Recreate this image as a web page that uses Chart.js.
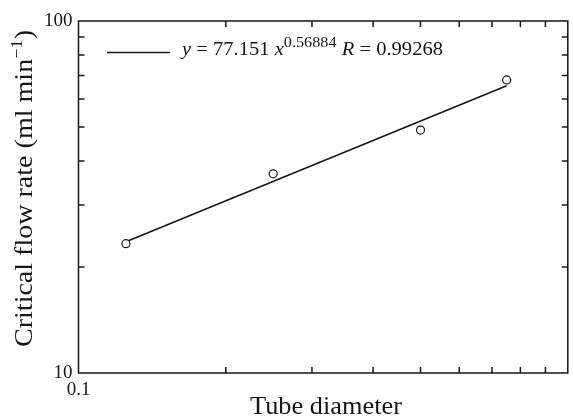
<!DOCTYPE html>
<html><head><meta charset="utf-8">
<script src="https://cdn.jsdelivr.net/npm/chart.js@4"></script>
<style>html,body{margin:0;padding:0;background:#fff}#wrap{width:573px;height:419px;position:relative}</style>
</head><body><div id="wrap"><canvas id="c"></canvas></div>
<script>
// ---- data ----
const diameters = [0.125, 0.25, 0.5, 0.75];
const flowRates = [23.3, 36.8, 49.0, 68.0];
const fitDiameters = [0.125, 0.75];
const fitFlowRates = [23.6, 65.5];
const xTickValues = [0.1];
const xTickLabels = ['0.1'];
const yTickValues = [10, 100];
const yTickLabels = ['10', '100'];
const xMinorTicks = [0.2, 0.3, 0.4, 0.5, 0.6, 0.7, 0.8, 0.9];
const yMinorTicks = [20, 30, 40, 50, 60, 70, 80, 90];
const xTitle = 'Tube diameter';
const yTitleParts = ['Critical flow rate (ml min', '\u22121', ')'];
const fitCoef = '77.151';
const fitExp = '0.56884';
const fitR = '0.99268';

const FAMILY = '"Liberation Serif", "Times New Roman", serif';
const INK = '#161616';

function font(size, italic){ return (italic ? 'italic ' : '') + size + 'px ' + FAMILY; }

// draws segments on one baseline, horizontally scaled to fit a target width
function drawSegments(ctx, segs, x, y, targetW){
  let natural = 0;
  segs.forEach(s => { ctx.font = font(s.size, s.italic); s.w = ctx.measureText(s.t).width; natural += s.w; });
  const sx = targetW ? targetW / natural : 1;
  ctx.save();
  ctx.translate(x, y);
  ctx.scale(sx, 1);
  let cx = 0;
  segs.forEach(s => {
    ctx.font = font(s.size, s.italic);
    ctx.fillText(s.t, cx, -(s.rise || 0));
    cx += s.w;
  });
  ctx.restore();
  return natural * sx;
}

const decor = {
  id: 'decor',
  afterDatasetsDraw(chart){
    const {ctx, chartArea: a, scales: {x, y}} = chart;
    ctx.save();
    ctx.strokeStyle = INK;
    ctx.fillStyle = INK;
    ctx.lineWidth = 1.5;
    ctx.strokeRect(a.left, a.top, a.right - a.left, a.bottom - a.top);
    const L = 6;
    ctx.beginPath();
    xMinorTicks.forEach(v => {
      const px = x.getPixelForValue(v);
      ctx.moveTo(px, a.bottom); ctx.lineTo(px, a.bottom - L);
      ctx.moveTo(px, a.top); ctx.lineTo(px, a.top + L);
    });
    yMinorTicks.forEach(v => {
      const py = y.getPixelForValue(v);
      ctx.moveTo(a.left, py); ctx.lineTo(a.left + L, py);
      ctx.moveTo(a.right, py); ctx.lineTo(a.right - L, py);
    });
    ctx.stroke();

    // legend
    ctx.lineWidth = 1.4;
    ctx.beginPath();
    ctx.moveTo(107, 52.5); ctx.lineTo(170, 52.5);
    ctx.stroke();
    ctx.textBaseline = 'alphabetic';
    ctx.textAlign = 'left';
    drawSegments(ctx, [
      {t: 'y', size: 19, italic: true},
      {t: ' = ' + fitCoef + ' ', size: 19},
      {t: 'x', size: 19, italic: true},
      {t: fitExp, size: 15, rise: 8},
      {t: ' ', size: 19},
      {t: 'R', size: 19, italic: true},
      {t: ' = ' + fitR, size: 19}
    ], 182, 55, 261);

    // x title
    drawSegments(ctx, [{t: xTitle, size: 26}], 326 - 152 / 2, 414, 152);

    // y title (rotated)
    ctx.save();
    ctx.translate(32, 188.5);
    ctx.rotate(-Math.PI / 2);
    drawSegments(ctx, [
      {t: yTitleParts[0], size: 26},
      {t: yTitleParts[1], size: 17, rise: 10},
      {t: yTitleParts[2], size: 26}
    ], -317 / 2, 0, 317);
    ctx.restore();

    ctx.restore();
  }
};

new Chart(document.getElementById('c'), {
  type: 'scatter',
  data: {
    datasets: [
      {
        label: 'data',
        data: diameters.map((d, i) => ({x: d, y: flowRates[i]})),
        showLine: false,
        pointRadius: 4,
        pointHoverRadius: 4,
        pointBackgroundColor: '#fff',
        pointBorderColor: INK,
        pointBorderWidth: 1.2
      },
      {
        label: 'fit',
        data: fitDiameters.map((d, i) => ({x: d, y: fitFlowRates[i]})),
        showLine: true,
        borderColor: INK,
        borderWidth: 1.5,
        pointRadius: 0,
        pointHoverRadius: 0
      }
    ]
  },
  options: {
    responsive: true,
    maintainAspectRatio: false,
    animation: false,
    layout: {padding: {top: 21, right: 1, bottom: 0, left: 0}},
    plugins: {legend: {display: false}, tooltip: {enabled: false}},
    scales: {
      x: {
        type: 'logarithmic',
        position: 'bottom',
        min: 0.1, max: 1,
        grid: {display: false, drawTicks: false},
        border: {display: false},
        ticks: {
          font: {family: FAMILY, size: 19},
          color: INK,
          padding: 6,
          maxRotation: 0,
          autoSkip: false,
          callback: v => { const i = xTickValues.indexOf(v); return i >= 0 ? xTickLabels[i] : ''; }
        },
        afterBuildTicks: s => { s.ticks = xTickValues.map(v => ({value: v})); },
        afterFit: s => { s.height = 46; }
      },
      y: {
        type: 'logarithmic',
        position: 'left',
        min: 10, max: 100,
        grid: {display: false, drawTicks: false},
        border: {display: false},
        ticks: {
          font: {family: FAMILY, size: 19},
          color: INK,
          padding: 6,
          autoSkip: false,
          callback: v => { const i = yTickValues.indexOf(v); return i >= 0 ? yTickLabels[i] : ''; }
        },
        afterBuildTicks: s => { s.ticks = yTickValues.map(v => ({value: v})); },
        afterFit: s => { s.width = 78.5; }
      }
    }
  },
  plugins: [decor]
});
</script>
</body></html>
